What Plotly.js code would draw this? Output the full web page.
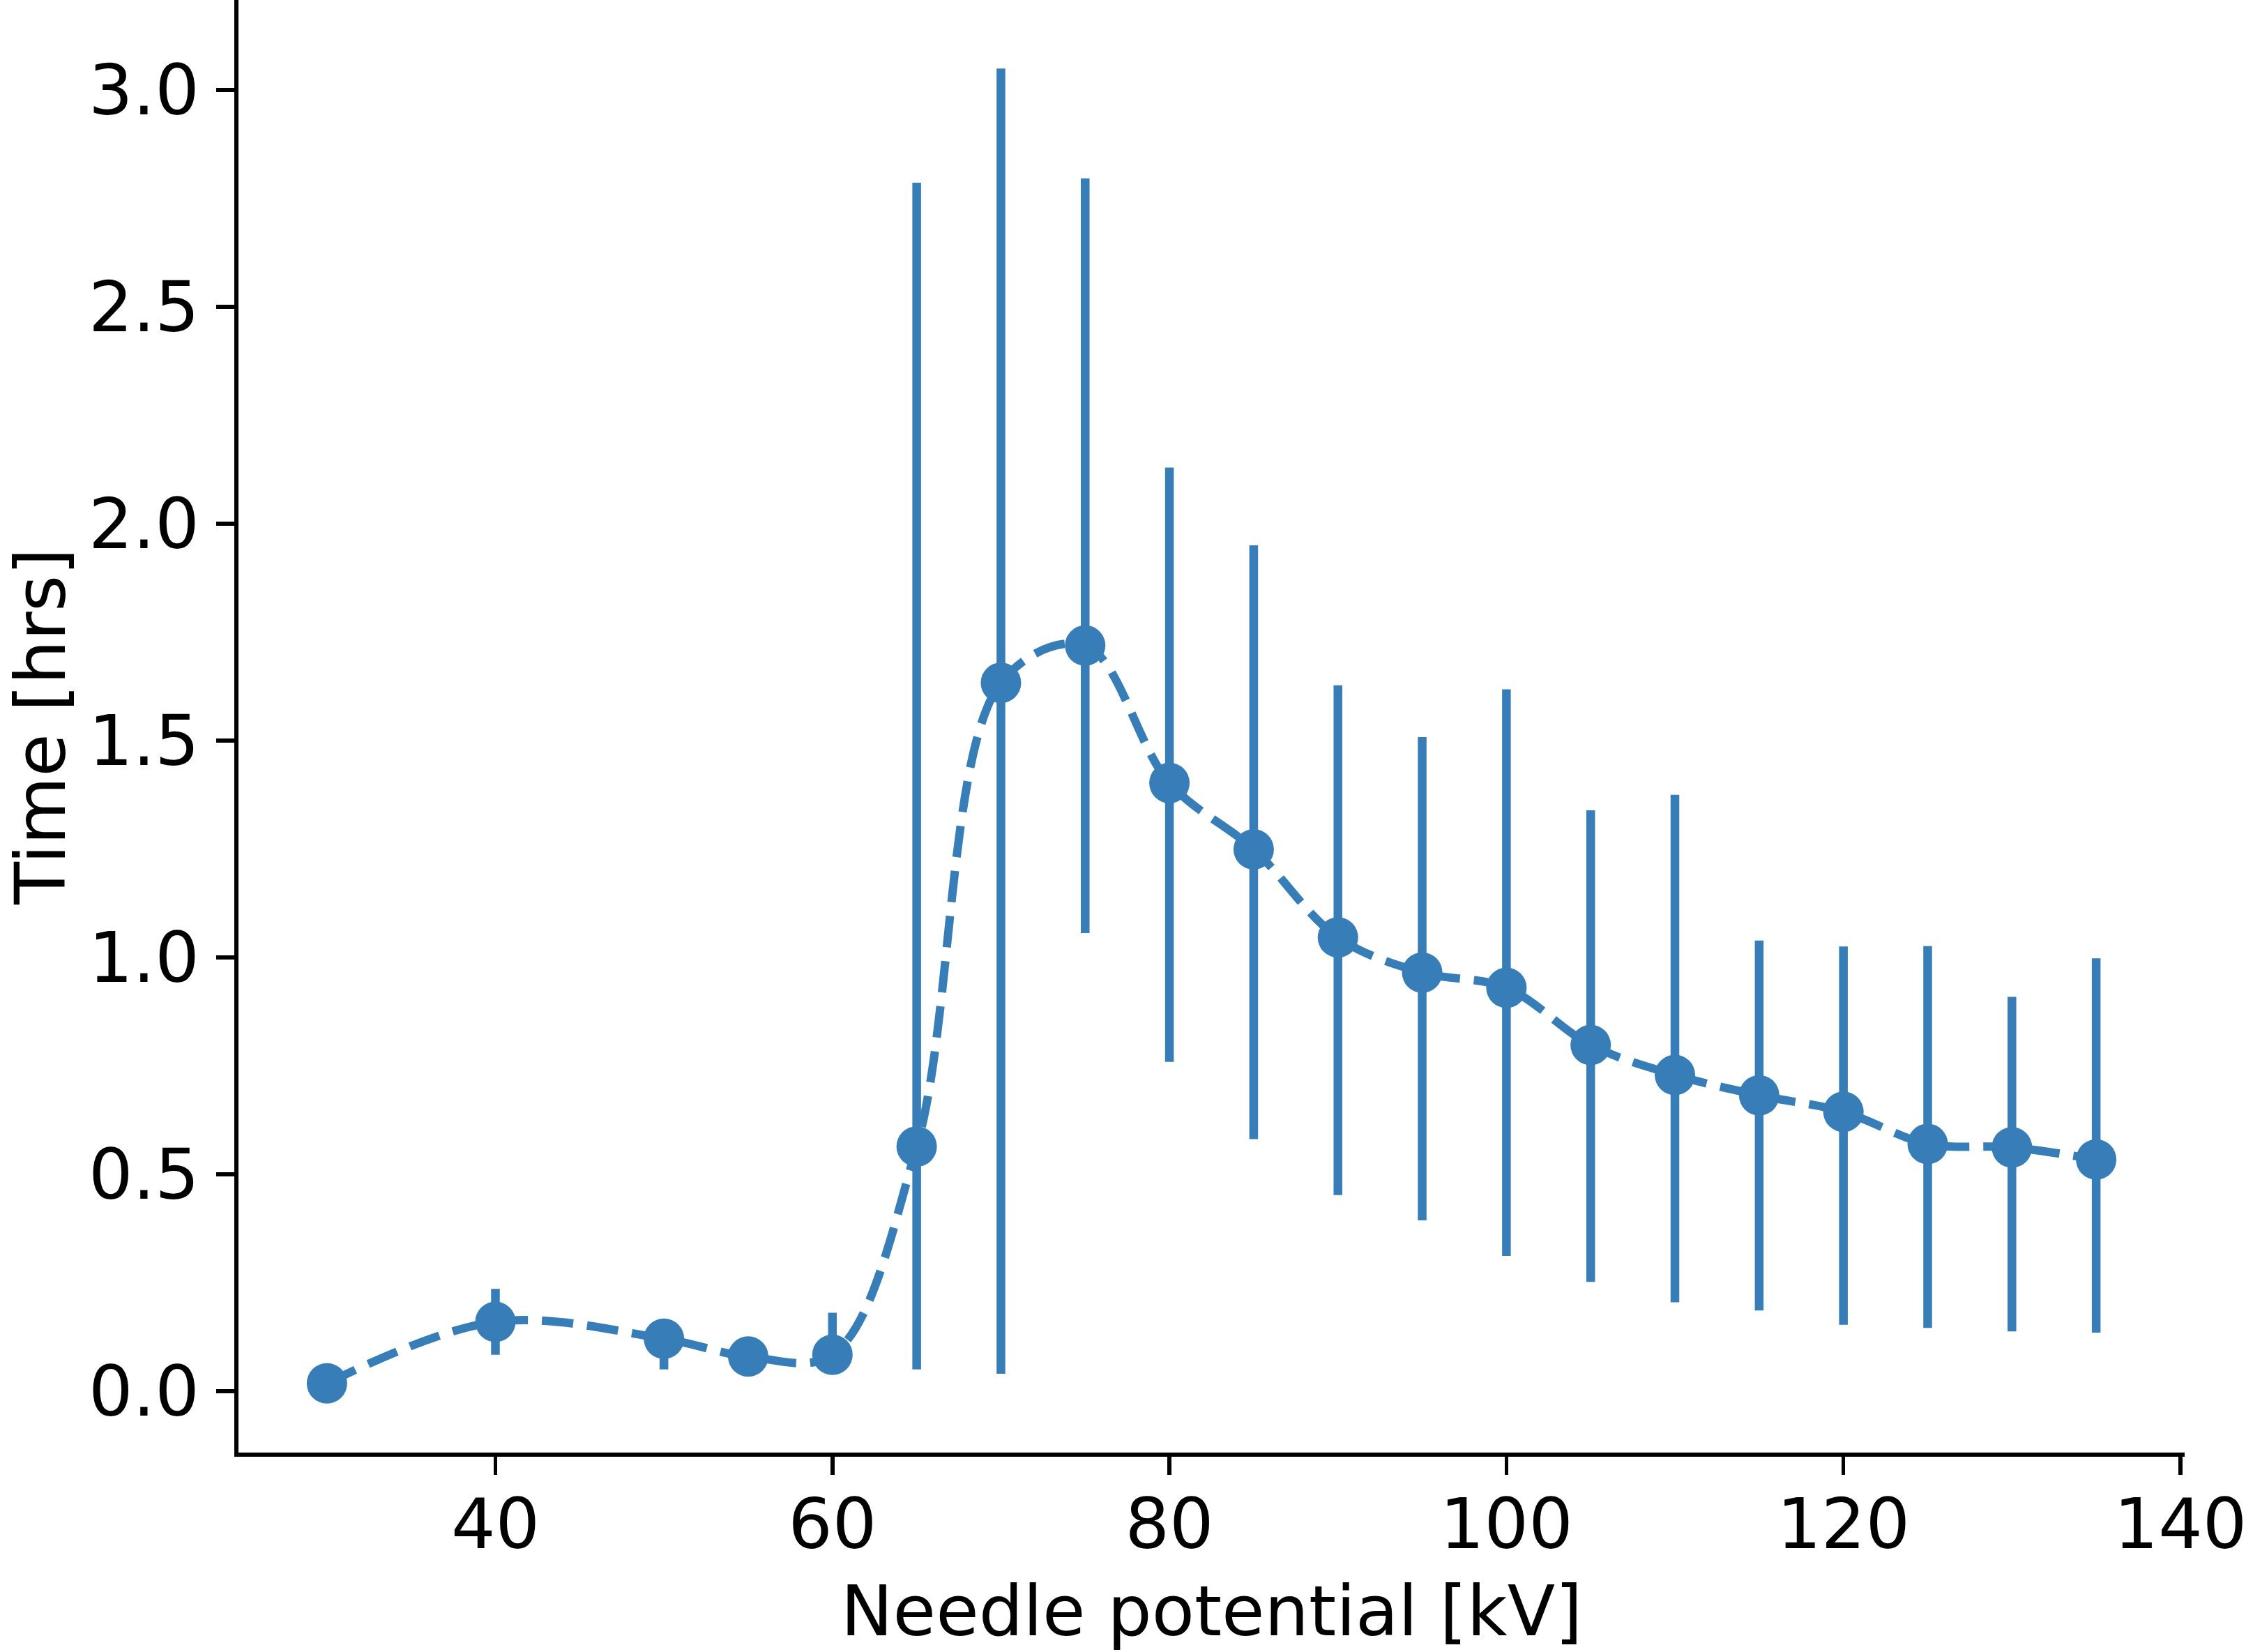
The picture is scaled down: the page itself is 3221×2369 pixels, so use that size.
<!DOCTYPE html>
<html>
<head>
<meta charset="utf-8">
<script src="https://cdn.plot.ly/plotly-3.0.1.min.js"></script>
<style>html,body{margin:0;padding:0;background:#fff;}</style>
</head>
<body>
<div id="chart" style="width:3221px;height:2369px;"></div>
<script>
// Needle potential [kV]
const voltages = [30, 40, 50, 55, 60, 65, 70, 75, 80, 85, 90, 95, 100, 105, 110, 115, 120, 125, 130, 135];
// Mean time [hrs]
const times = [0.018, 0.160, 0.121, 0.080, 0.084, 0.564, 1.633, 1.719, 1.402, 1.249, 1.046, 0.965, 0.930, 0.798, 0.729, 0.682, 0.644, 0.570, 0.562, 0.534];
// Upper end of error bar [hrs]
const upperBounds = [0.018, 0.236, 0.160, 0.080, 0.181, 2.786, 3.049, 2.796, 2.129, 1.950, 1.627, 1.508, 1.618, 1.339, 1.375, 1.039, 1.025, 1.026, 0.909, 0.998];
// Lower end of error bar [hrs]
const lowerBounds = [0.018, 0.084, 0.050, 0.080, 0.050, 0.050, 0.040, 1.056, 0.759, 0.581, 0.452, 0.394, 0.312, 0.252, 0.205, 0.186, 0.153, 0.146, 0.138, 0.135];

const xTickVals = [40, 60, 80, 100, 120, 140];
const yTickVals = [0.0, 0.5, 1.0, 1.5, 2.0, 2.5, 3.0];
const xTitle = 'Needle potential [kV]';
const yTitle = 'Time [hrs]';

const blue = '#377eb8';
const font = {family: 'DejaVu Sans, sans-serif', size: 100, color: '#000'};

const errPlus = times.map((t, i) => upperBounds[i] - t);
const errMinus = times.map((t, i) => t - lowerBounds[i]);

const traces = [
  {
    x: voltages, y: times, type: 'scatter', mode: 'lines',
    line: {color: blue, width: 12, dash: '45px,20px', shape: 'spline', smoothing: 1},
    hoverinfo: 'skip', showlegend: false
  },
  {
    x: voltages, y: times, type: 'scatter', mode: 'markers',
    marker: {color: blue, size: 58, line: {width: 0}},
    error_y: {type: 'data', symmetric: false, array: errPlus, arrayminus: errMinus,
              color: blue, thickness: 12.5, width: 0},
    showlegend: false
  }
];

const axisCommon = {
  showgrid: false, zeroline: false, showline: true, linecolor: '#000', linewidth: 6,
  ticks: 'outside', ticklen: 26, tickwidth: 5.5, tickcolor: '#000',
  tickfont: font, mirror: false, automargin: false, ticklabeloverflow: 'allow'
};

const layout = {
  width: 3221, height: 2369,
  paper_bgcolor: '#fff', plot_bgcolor: '#fff',
  margin: {l: 342, r: 88, t: 0, b: 286, pad: 0},
  showlegend: false,
  xaxis: Object.assign({}, axisCommon, {
    range: [24.75, 140.25], tickvals: xTickVals, ticktext: xTickVals.map(String),
    ticklabelstandoff: -15,
    title: {text: xTitle, font: font, standoff: 38}
  }),
  yaxis: Object.assign({}, axisCommon, {
    range: [-0.1415, 3.207], tickvals: yTickVals, ticktext: yTickVals.map(v => v.toFixed(1)),
    ticklabelstandoff: 4,
    title: {text: yTitle, font: font, standoff: 28}
  })
};

Plotly.newPlot('chart', traces, layout, {staticPlot: true, displayModeBar: false});
</script>
</body>
</html>
